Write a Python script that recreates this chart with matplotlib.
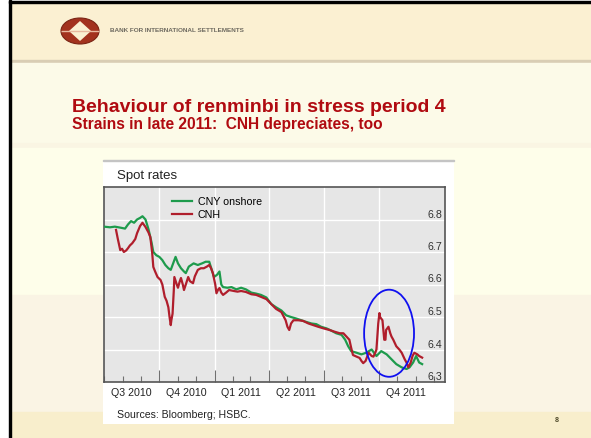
import matplotlib

matplotlib.use("Agg")
import matplotlib.dates as mdates
import matplotlib.pyplot as plt
import pandas as pd
from matplotlib.patches import Ellipse, Polygon, Rectangle
from matplotlib.ticker import NullLocator

plt.rcParams["font.family"] = ["Liberation Sans", "DejaVu Sans"]

# --- data ---
CNY_DATES = [
    "2010-07-01", "2010-07-11", "2010-07-19", "2010-07-28", "2010-08-05", "2010-08-10",
    "2010-08-15", "2010-08-20", "2010-08-25", "2010-08-30", "2010-09-03", "2010-09-08",
    "2010-09-13", "2010-09-18", "2010-09-21", "2010-09-26", "2010-10-01", "2010-10-06",
    "2010-10-11", "2010-10-16", "2010-10-20", "2010-10-25", "2010-10-28", "2010-11-01",
    "2010-11-06", "2010-11-11", "2010-11-14", "2010-11-19", "2010-11-27", "2010-12-04",
    "2010-12-11", "2010-12-17", "2010-12-23", "2010-12-28", "2010-12-31", "2011-01-05",
    "2011-01-09", "2011-01-12", "2011-01-15", "2011-01-22", "2011-01-29", "2011-02-06",
    "2011-02-14", "2011-02-22", "2011-03-03", "2011-03-11", "2011-03-19", "2011-03-28",
    "2011-04-05", "2011-04-13", "2011-04-22", "2011-04-30", "2011-05-08", "2011-05-17",
    "2011-05-25", "2011-06-02", "2011-06-11", "2011-06-19", "2011-06-27", "2011-07-06",
    "2011-07-14", "2011-07-22", "2011-07-31", "2011-08-06", "2011-08-11", "2011-08-16",
    "2011-08-25", "2011-09-02", "2011-09-10", "2011-09-19", "2011-09-27", "2011-10-05",
    "2011-10-14", "2011-10-22", "2011-10-30", "2011-11-08", "2011-11-16", "2011-11-21",
    "2011-11-27", "2011-12-02", "2011-12-07", "2011-12-12",
]
CNY_VALUES = [
    6.778, 6.776, 6.778, 6.775, 6.772, 6.785,
    6.795, 6.790, 6.800, 6.805, 6.810, 6.800,
    6.770, 6.730, 6.700, 6.690, 6.685, 6.675,
    6.660, 6.650, 6.645, 6.670, 6.685, 6.665,
    6.650, 6.640, 6.635, 6.655, 6.665, 6.660,
    6.665, 6.670, 6.670, 6.640, 6.623, 6.630,
    6.640, 6.600, 6.592, 6.590, 6.592, 6.585,
    6.590, 6.585, 6.575, 6.572, 6.568, 6.560,
    6.540, 6.530, 6.520, 6.505, 6.500, 6.495,
    6.490, 6.485, 6.480, 6.478, 6.470, 6.465,
    6.458, 6.450, 6.445, 6.430, 6.410, 6.395,
    6.390, 6.385, 6.390, 6.400, 6.380, 6.395,
    6.385, 6.370, 6.355, 6.345, 6.340, 6.345,
    6.360, 6.380, 6.360, 6.355,
]

CNH_DATES = [
    "2010-07-21", "2010-07-24", "2010-07-28", "2010-07-31", "2010-08-03", "2010-08-07",
    "2010-08-10", "2010-08-13", "2010-08-17", "2010-08-22", "2010-08-25", "2010-08-30",
    "2010-09-03", "2010-09-08", "2010-09-13", "2010-09-16", "2010-09-19", "2010-09-21",
    "2010-09-24", "2010-09-28", "2010-10-03", "2010-10-06", "2010-10-10", "2010-10-13",
    "2010-10-16", "2010-10-18", "2010-10-20", "2010-10-21", "2010-10-23", "2010-10-25",
    "2010-10-26", "2010-10-30", "2010-11-01", "2010-11-04", "2010-11-06", "2010-11-09",
    "2010-11-11", "2010-11-14", "2010-11-18", "2010-11-21", "2010-11-26", "2010-11-29",
    "2010-12-04", "2010-12-09", "2010-12-14", "2010-12-19", "2010-12-23", "2010-12-26",
    "2010-12-29", "2011-01-02", "2011-01-04", "2011-01-07", "2011-01-09", "2011-01-12",
    "2011-01-15", "2011-01-20", "2011-01-25", "2011-02-02", "2011-02-08", "2011-02-14",
    "2011-02-22", "2011-03-03", "2011-03-11", "2011-03-19", "2011-03-28", "2011-04-05",
    "2011-04-13", "2011-04-22", "2011-04-29", "2011-05-02", "2011-05-05", "2011-05-08",
    "2011-05-12", "2011-05-20", "2011-05-28", "2011-06-06", "2011-06-14", "2011-06-22",
    "2011-07-01", "2011-07-11", "2011-07-19", "2011-07-28", "2011-08-03", "2011-08-08",
    "2011-08-13", "2011-08-16", "2011-08-19", "2011-08-25", "2011-08-30", "2011-09-02",
    "2011-09-05", "2011-09-09", "2011-09-14", "2011-09-19", "2011-09-22", "2011-09-25",
    "2011-09-27", "2011-09-30", "2011-10-02", "2011-10-03", "2011-10-07", "2011-10-08",
    "2011-10-10", "2011-10-12", "2011-10-13", "2011-10-17", "2011-10-20", "2011-10-22",
    "2011-10-25", "2011-10-30", "2011-11-04", "2011-11-08", "2011-11-13", "2011-11-16",
    "2011-11-19", "2011-11-23", "2011-11-26", "2011-11-29", "2011-12-04", "2011-12-07",
    "2011-12-12",
]
CNH_VALUES = [
    6.768, 6.740, 6.706, 6.710, 6.700, 6.705,
    6.712, 6.720, 6.727, 6.740, 6.758, 6.780,
    6.790, 6.777, 6.760, 6.746, 6.700, 6.654,
    6.640, 6.623, 6.614, 6.600, 6.562, 6.550,
    6.530, 6.500, 6.475, 6.490, 6.510, 6.580,
    6.623, 6.600, 6.590, 6.610, 6.620, 6.600,
    6.583, 6.600, 6.623, 6.610, 6.604, 6.625,
    6.645, 6.650, 6.650, 6.655, 6.660, 6.650,
    6.635, 6.600, 6.573, 6.585, 6.589, 6.575,
    6.568, 6.575, 6.583, 6.580, 6.578, 6.580,
    6.577, 6.570, 6.568, 6.562, 6.555, 6.540,
    6.525, 6.515, 6.490, 6.470, 6.460, 6.480,
    6.490, 6.490, 6.488, 6.480, 6.475, 6.470,
    6.465, 6.460, 6.455, 6.450, 6.450, 6.440,
    6.430, 6.405, 6.383, 6.378, 6.374, 6.365,
    6.358, 6.365, 6.390, 6.380, 6.378, 6.390,
    6.400, 6.480, 6.512, 6.500, 6.490, 6.470,
    6.430, 6.430, 6.460, 6.470, 6.450, 6.440,
    6.430, 6.410, 6.400, 6.390, 6.370, 6.360,
    6.345, 6.360, 6.380, 6.390, 6.385, 6.380,
    6.375,
]

Y_TICKS = [6.3, 6.4, 6.5, 6.6, 6.7, 6.8]
QUARTER_STARTS = ["2010-10-01", "2011-01-01", "2011-04-01", "2011-07-01", "2011-10-01"]
QUARTER_MIDS = ["2010-08-15", "2010-11-15", "2011-02-14", "2011-05-16", "2011-08-15", "2011-11-15"]
QUARTER_LABELS = ["Q3 2010", "Q4 2010", "Q1 2011", "Q2 2011", "Q3 2011", "Q4 2011"]
CIRCLE_CENTER = ("2011-10-18", 6.45)

W, H = 591, 438
GREEN = "#1E9B4C"
RED = "#B01E2C"
TITLE_RED = "#B00A10"


def fx(px):
    return px / W


def fy(py):
    return 1 - py / H


fig = plt.figure(figsize=(W / 100, H / 100), dpi=100)
fig.patch.set_facecolor("white")

# slide background bands (top, bottom in pixels)
bands = [
    (3, 60, "#FBF0D2"),
    (60, 63, "#D9CDB4"),
    (63, 143, "#FCFAE8"),
    (143, 148, "#FAF5E3"),
    (148, 295, "#FEFEEA"),
    (295, 412, "#FAF4E4"),
    (412, 438, "#F8EECC"),
]
for top, bottom, color in bands:
    fig.patches.append(Rectangle((fx(10), fy(bottom)), 1, (bottom - top) / H,
                                 transform=fig.transFigure, color=color, zorder=0))
fig.patches.append(Rectangle((fx(9), 0), 2 / W, 1, transform=fig.transFigure, color="black", zorder=1))
fig.patches.append(Rectangle((fx(9), fy(3)), 1, 2 / H, transform=fig.transFigure, color="black", zorder=1))

# BIS logo
fig.patches.append(Ellipse((fx(80), fy(31)), 38 / W, 26 / H, transform=fig.transFigure,
                           facecolor="#A3321E", edgecolor="#7A2414", lw=0.8, zorder=2))
fig.patches.append(Polygon([(fx(80), fy(21)), (fx(91), fy(31)), (fx(80), fy(41)), (fx(69), fy(31))],
                           closed=True, transform=fig.transFigure, facecolor="#FBF0D2",
                           edgecolor="none", zorder=3))
fig.patches.append(Rectangle((fx(61), fy(31.4)), 38 / W, 0.8 / H, transform=fig.transFigure,
                             color="#E8B9A0", zorder=3))
fig.text(fx(110), fy(31), "BANK FOR INTERNATIONAL SETTLEMENTS", fontsize=4.6,
         color="#6E6A60", va="center", ha="left", fontweight="bold")

# titles
fig.text(fx(72), fy(107), "Behaviour of renminbi in stress period 4", fontsize=14,
         fontweight="bold", color=TITLE_RED, va="center", ha="left")
fig.text(fx(72), fy(124.5), "Strains in late 2011:  CNH depreciates, too", fontsize=11.2,
         fontweight="bold", color=TITLE_RED, va="center", ha="left")
fig.text(fx(557), fy(420), "8", fontsize=5, fontweight="bold", color="#4F4A2A", va="center", ha="center")

# white chart panel
fig.patches.append(Rectangle((fx(103), fy(424)), (454 - 103) / W, (424 - 160) / H,
                             transform=fig.transFigure, facecolor="white", edgecolor="none", zorder=2))
fig.patches.append(Rectangle((fx(103), fy(161)), (454 - 103) / W, 1.2 / H,
                             transform=fig.transFigure, color="#C4C4C4", zorder=3))
fig.text(fx(117), fy(176), "Spot rates", fontsize=9.5, color="#222222", va="center", ha="left")
fig.text(fx(117), fy(415), "Sources: Bloomberg; HSBC.", fontsize=7.6, color="#222222", va="center", ha="left")

ax = fig.add_axes([fx(104), fy(382), (445 - 104) / W, (382 - 187) / H])
ax.set_facecolor("#E6E6E6")
ax.set_zorder(5)

cny = pd.to_datetime(CNY_DATES)
cnh = pd.to_datetime(CNH_DATES)
ax.plot(cny, CNY_VALUES, color=GREEN, lw=1.6, label="CNY onshore", zorder=3)
ax.plot(cnh, CNH_VALUES, color=RED, lw=1.6, label="CNH", zorder=4)

cx = mdates.date2num(pd.Timestamp(CIRCLE_CENTER[0]))
ax.add_patch(Ellipse((cx, CIRCLE_CENTER[1]), 83, 0.268, facecolor="none",
                     edgecolor="#1010F0", lw=1.3, zorder=6))

ax.set_xlim(pd.Timestamp("2010-07-01"), pd.Timestamp("2012-01-19"))
ax.set_ylim(6.3, 6.9)

# x axis: quarter boundaries (grid + long ticks), monthly short ticks
ax.set_xticks(pd.to_datetime(QUARTER_STARTS))
ax.xaxis.set_minor_locator(mdates.MonthLocator())
ax.set_xticklabels([])
ax.tick_params(axis="x", which="major", direction="in", length=8.5, width=0.8, color="#707070")
ax.tick_params(axis="x", which="minor", direction="in", length=4.3, width=0.8, color="#707070")
ax.grid(axis="x", which="major", color="white", lw=1.0)

# quarter names sit mid-quarter on a tickless secondary axis
sec = ax.secondary_xaxis("bottom")
sec.set_xticks(pd.to_datetime(QUARTER_MIDS))
sec.set_xticklabels(QUARTER_LABELS)
sec.xaxis.set_minor_locator(NullLocator())
sec.tick_params(axis="x", length=0, pad=4, labelsize=7.7, labelcolor="#222222")
sec.spines["bottom"].set_visible(False)

# y axis: labels inside on the right, above grid lines
ax.set_yticks(Y_TICKS)
ax.set_yticklabels([f"{v:.1f}" for v in Y_TICKS])
ax.yaxis.tick_right()
ax.tick_params(axis="y", length=0, pad=-2.2, labelsize=7.7, labelcolor="#333333")
plt.setp(ax.get_yticklabels(), ha="right", va="bottom")
ax.grid(axis="y", color="white", lw=1.0)
ax.set_axisbelow(True)

for spine in ax.spines.values():
    spine.set_color("#555555")
    spine.set_linewidth(1.2)

ax.legend(loc="upper left", bbox_to_anchor=((172 - 104) / 341, (382 - 197) / 195), frameon=False,
          fontsize=7.7, handlelength=1.9, handletextpad=0.5, labelspacing=0.3,
          borderpad=0, borderaxespad=0)

fig.savefig("out.png", dpi=100)
